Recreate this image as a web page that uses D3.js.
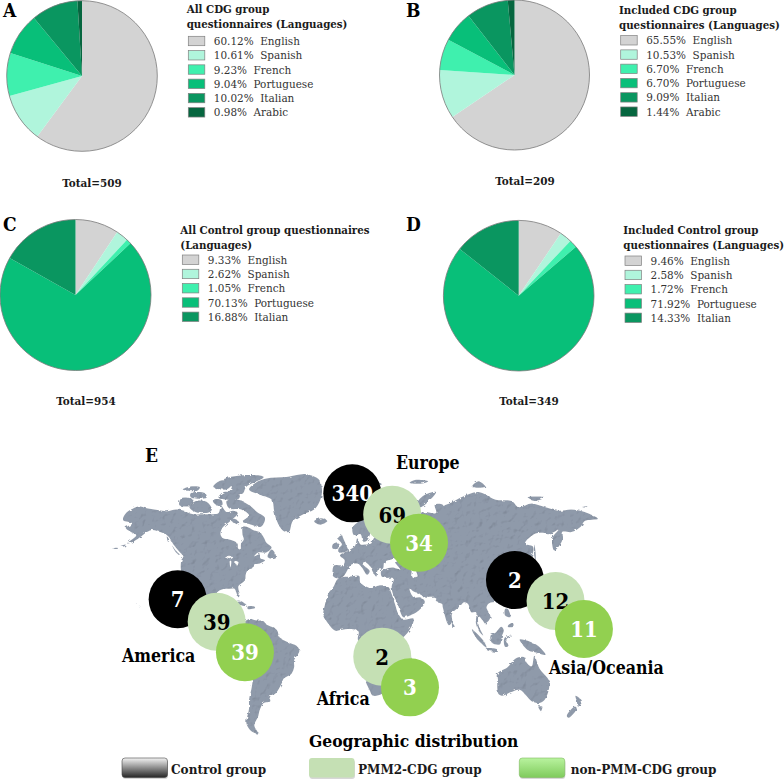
<!DOCTYPE html>
<html>
<head>
<meta charset="utf-8">
<script src="https://cdn.jsdelivr.net/npm/d3@7"></script>
<style>
  html, body { margin: 0; padding: 0; background: #fff; }
  svg { display: block; }
  text { font-family: "DejaVu Serif Condensed", "DejaVu Serif", serif; }
</style>
</head>
<body>
<div id="chart"></div>
<script>
// Languages, in legend order
const languages = ["English", "Spanish", "French", "Portuguese", "Italian", "Arabic"];
const languageColors = ["#d3d3d3", "#b0f5dc", "#3ff0ae", "#08bf79", "#0a9660", "#06663f"];

// Percent of questionnaires per language
const allCdg = [60.12, 10.61, 9.23, 9.04, 10.02, 0.98];
const includedCdg = [65.55, 10.53, 6.70, 6.70, 9.09, 1.44];
const allControl = [9.33, 2.62, 1.05, 70.13, 16.88];
const includedControl = [9.46, 2.58, 1.72, 71.92, 14.33];

// Bubbles on the map, drawn back to front
const bubbleGroups = [0, 1, 2, 0, 1, 2, 1, 2, 0, 1, 2];
const bubbleValues = [340, 69, 34, 7, 39, 39, 2, 3, 2, 12, 11];
const bubbleLon = [4.8, 34.9, 55.1, -126.8, -97.4, -76.1, 27.4, 48.3, 127.4, 158, 179.4];
const bubbleLat = [76.5, 67.8, 54.9, 23.8, 10.1, -8.9, -11.6, -30.1, 35.1, 22.8, 5.6];

const groupNames = ["Control group", "PMM2-CDG group", "non-PMM-CDG group"];
const groupColors = ["#000000", "#c5e0b4", "#92d050"];
const groupTextColors = ["#ffffff", "#000000", "#ffffff"];

// Rough coastlines as [lon, lat]
const land = [
  // North America
  [[-168,65.5],[-166,68.3],[-162,70],[-156.5,71.3],[-150,70.5],[-141,69.7],[-135,69.3],[-128,70],[-124,69.8],[-115,68],[-108,68],[-100,68],[-96,68.5],[-94,71.5],[-90,69],[-85,69.5],[-81.5,68.5],[-87,65],[-93,62],[-94.5,59],[-92.5,57],[-88,56.5],[-82.5,55],[-82,52.5],[-79.5,51.5],[-79,54.5],[-77,56.5],[-78,59],[-77.5,62.5],[-73,62],[-70,61],[-65,60],[-62,57.5],[-60,55],[-56,52.5],[-60,50],[-66,50],[-69,48],[-65,49],[-64.5,47],[-61,46],[-66,44],[-70,43.5],[-70.5,41.7],[-74,40.5],[-75.5,38],[-76,35],[-81,31.5],[-80,26.5],[-81,25],[-82.7,28],[-84,30],[-89,30],[-94,29.5],[-97.3,27.5],[-97.8,22.5],[-95,18.5],[-91,18.5],[-90.5,21],[-87,21.5],[-88,16],[-83.5,15],[-83.5,11],[-80,9],[-77.5,8.5],[-79.5,7.5],[-83,8.3],[-86,11],[-91,14],[-95,16],[-100,17],[-105.5,20],[-106,23],[-109,26],[-112.5,30],[-114.5,31.5],[-112,27],[-109.7,23],[-112,25],[-115,29],[-117,32.5],[-120.5,34.5],[-122.5,37.5],[-124.3,40.5],[-124,46],[-122.5,48],[-125,50],[-130,54],[-134,58],[-140,60],[-146,61],[-150,60],[-154,58],[-160,55.5],[-165,54.5],[-158,58.5],[-162,60],[-166,62],[-161,64]],
  // Greenland
  [[-73,78],[-68,80.5],[-60,82],[-45,82.5],[-30,83.5],[-20,81.5],[-18,77],[-20,73],[-24,70],[-32,68],[-40,65],[-43,60],[-48,61],[-52,65],[-54,69],[-56,74],[-65,76]],
  // Arctic Canada
  [[-81,73.8],[-72,71.5],[-67,69],[-61,66.5],[-64,62.5],[-72,63.5],[-78,64.8],[-73,67.5],[-79,70],[-88,70.5],[-90,73.5]],
  [[-118,71],[-113,68.8],[-103,68.8],[-101,70],[-105,73.2],[-114,73.3]],
  [[-88,76.8],[-78,76.3],[-75,79],[-62,82.5],[-75,83.2],[-92,81.5],[-86,79]],
  [[-125.5,71.8],[-118,71.5],[-115,74],[-124,74.6]],
  [[-96,74.8],[-81,74.3],[-80,75.8],[-92,77]],
  [[-117,75],[-105,74.8],[-106,76.5],[-117,76.5]],
  [[-100,73],[-96,71.5],[-93,72],[-94,74],[-100,74]],
  [[-87,65.5],[-81,63.5],[-80.5,64.5],[-84,66]],
  [[-79,56],[-79,55.5],[-78,56.5]],
  [[-100,79],[-90,78],[-86,80],[-94,81.3]],
  [[-123,78],[-112,77.5],[-110,78.8],[-118,79]],
  [[-84,73],[-79,72.5],[-78,73.5],[-84,73.9]],
  // Aleutians and Pacific dots
  [[-176,52],[-172,52.3],[-172,51.8]],
  [[-170,53.2],[-166,54],[-167,53]],
  [[-156,20],[-155,19.5],[-155.5,19]],
  [[-158.3,21.6],[-157.7,21.4],[-158,21.2]],
  [[-135,58],[-133,56],[-134,55.3]],
  [[-131,53.5],[-128,50],[-125,48.7],[-128,50.8]],
  // Newfoundland, Caribbean
  [[-59,47.7],[-53,46.8],[-53,49],[-56,51.5]],
  [[-85,22],[-80,23],[-74.5,20],[-78,20]],
  [[-74,19.5],[-69,19.5],[-68.5,18.5],[-74,18]],
  // South America
  [[-77.5,8.5],[-75,11],[-72,12],[-68,11],[-62,10.5],[-60,8.5],[-52,5],[-50,0.5],[-44,-2.5],[-37,-5],[-35,-8],[-39,-14],[-39,-18],[-41,-22],[-47,-25],[-48.5,-28],[-53.5,-34],[-58,-35],[-57,-38],[-62,-39],[-65,-43],[-66,-46],[-69,-51],[-66,-55],[-71,-54],[-75,-50],[-73,-42],[-73,-37],[-71,-30],[-70,-18],[-76,-14],[-81,-6],[-80,-2],[-79,2],[-77.5,5]],
  // Africa
  [[-6,35.8],[3,37],[10,37.3],[11,33.5],[19,30.5],[25,32],[32,31],[34,28],[37,21],[39.5,15],[43,11.5],[51,12],[48,5],[41,-2],[39,-7],[40.5,-15],[35,-20],[35,-24],[32.5,-28],[27,-34],[20,-34.8],[18,-32],[15,-27],[12,-18],[13.5,-10],[9,-1],[9.5,4],[5,5.5],[-4,5],[-8,4.5],[-13,8.5],[-17,14.7],[-16,20],[-13,27.5],[-9.5,31]],
  [[49,-12],[50,-16],[47,-25],[44,-25],[44,-17]],
  // Eurasia
  [[-9.5,37],[-9,43],[-2,43.5],[-1,46],[-4.5,48.5],[2,51],[7,53.5],[8.5,57],[11,54],[14,54],[19,54.5],[21,57],[24,59],[30,60],[23,60],[21,63],[25,65.5],[22,65.5],[17.5,62],[18.5,60],[16,56],[13,55.5],[11,59],[6,58.5],[5,62],[12,66],[18,70],[26,71],[33,69.5],[41,67],[38,64.5],[44,66],[44,68],[54,68.5],[60,69],[68,68.5],[67,72],[73,72],[75,68],[73,71],[80,73],[87,75],[100,77],[113,74],[125,73.5],[130,71],[140,72.5],[150,71],[160,69.5],[170,70],[180,69],[190,66],[180,65],[177,62.5],[170,60],[163,60],[163,56],[157,51],[155.5,57],[160,61],[155,59.5],[143,59.3],[135,54.5],[141,53],[140,48],[133,43],[130,42.5],[127.5,39.8],[129.5,36],[126.5,34.5],[126,37.5],[125,39.5],[121,39],[118,39],[122,37],[119.5,35],[122,31],[120,26],[114,22.5],[108,21.5],[106,19],[109,13],[105,9],[103,11],[100,13.5],[100,8],[103.5,1.5],[100.5,4],[98,9],[98,16],[94.5,16],[92,21],[89,22],[86.5,20],[80,15],[80,10],[77.5,8],[73,19],[72.5,21],[69,22],[67,25],[61,25.3],[57,26],[56,27],[51,28.5],[48,30],[51,25],[56,25],[59.5,22.5],[55,17],[45,13],[43,13],[39,21],[35,28],[34.5,31.5],[36,36],[30,36.3],[27,37],[26.5,40],[29,41],[35,42],[41,41],[37,45],[39,47],[33,46],[29,45],[28,41.5],[24,40.5],[23,37],[20,40],[19,42],[14,45],[12.5,44],[18,40],[16,38],[12,42],[9,44],[4,43.5],[0,39],[-2,37],[-5.5,36]],
  // Atlantic and Arctic islands
  [[-5.5,50],[1.5,51],[0,54],[-2,57],[-3,58.5],[-6,57],[-3,54],[-5.5,52]],
  [[-10,52],[-6,52],[-6,55],[-10,54]],
  [[-24,65],[-18,66.3],[-14,65],[-19,63.4],[-22.5,64]],
  [[12,79],[20,80.5],[27,80],[18,77],[14,77]],
  [[52,71],[57,71],[68,77],[58,75.5]],
  [[48,80.5],[58,80.2],[62,81],[52,81.5]],
  [[95,79],[105,79],[100,81]],
  [[137,75],[150,75],[142,73.5]],
  [[178,71],[182,71.3],[180,70.8]],
  // East Asia
  [[142,54],[143,50],[143,46],[142,48]],
  [[130,33],[136,34],[141,35.5],[142,40],[140.5,41],[137,37],[132,35.5]],
  [[140,42],[145,43.5],[142,45.5]],
  [[120,23],[122,25],[121,22]],
  [[120,18],[122,18],[124,13],[120,14]],
  [[122,7],[126,7],[126,9.5],[123,8.5]],
  [[80,9.5],[82,7],[80.5,6]],
  // Indonesia and Oceania
  [[95,5.5],[104,-2],[106,-6],[101.5,-3],[96,3]],
  [[105.5,-6.5],[114,-7],[114.5,-8.5],[106,-7.5]],
  [[109,1.5],[113,3.5],[117,7],[119,5],[117.5,1],[116,-4],[110,-3]],
  [[119.5,0],[125,1.5],[121,-1],[122.5,-5],[120,-5.5]],
  [[131,-1],[138,-2],[145,-5],[150.5,-10.5],[143,-9],[138,-8],[133,-4]],
  [[114,-22],[122,-18],[126,-14],[130,-12],[135,-12],[136,-15],[140,-17.5],[142,-11],[146,-19],[153,-26],[153,-31],[150,-37],[146,-39],[140,-38],[136,-35],[131,-31.5],[124,-33],[118,-35],[115,-34],[114,-26]],
  [[145,-41],[148,-41],[147,-43.5]],
  [[173,-35],[178,-38],[175,-41],[174,-38]],
  [[172.5,-41],[174,-42],[168,-47],[166.5,-46]]
];

// Inland water cut out of the map
const water = [
  [[47,45],[53,46],[53,40],[54,37],[49.5,37],[49.5,40.5]],
  [[-91,47.5],[-85,47.5],[-87,46.5]],
  [[-87.5,45.5],[-86.5,45.5],[-87,42]],
  [[-84,45.5],[-81,45],[-82,43]]
];

const svg = d3.select("#chart").append("svg")
    .attr("width", 784)
    .attr("height", 783);

const defs = svg.append("defs");

// Stone-like texture for the map
const stone = defs.append("filter").attr("id", "stone")
    .attr("x", "-2%").attr("y", "-2%").attr("width", "104%").attr("height", "104%");
stone.append("feTurbulence").attr("type", "fractalNoise").attr("baseFrequency", 0.25)
    .attr("numOctaves", 3).attr("seed", 5).attr("result", "edge");
stone.append("feDisplacementMap").attr("in", "SourceGraphic").attr("in2", "edge")
    .attr("scale", 3).attr("result", "shape");
stone.append("feTurbulence").attr("type", "fractalNoise").attr("baseFrequency", 0.16)
    .attr("numOctaves", 4).attr("seed", 11).attr("result", "noise");
stone.append("feDiffuseLighting").attr("in", "noise").attr("surfaceScale", 0.9)
    .attr("diffuseConstant", 1.18)
    .attr("lighting-color", "#ffffff").attr("result", "light")
    .append("feDistantLight").attr("azimuth", 45).attr("elevation", 60);
stone.append("feComposite").attr("in", "light").attr("in2", "shape")
    .attr("operator", "in").attr("result", "texture");
stone.append("feBlend").attr("in", "texture").attr("in2", "shape").attr("mode", "multiply");

const controlFill = defs.append("linearGradient").attr("id", "controlFill")
    .attr("x1", 0).attr("y1", 0).attr("x2", 0).attr("y2", 1);
controlFill.append("stop").attr("offset", "0%").attr("stop-color", "#f4f4f4");
controlFill.append("stop").attr("offset", "100%").attr("stop-color", "#262626");

const greenFill = defs.append("linearGradient").attr("id", "greenFill")
    .attr("x1", 0).attr("y1", 0).attr("x2", 0).attr("y2", 1);
greenFill.append("stop").attr("offset", "0%").attr("stop-color", "#b9f39f");
greenFill.append("stop").attr("offset", "100%").attr("stop-color", "#7fcb5c");

// Pie panels
const pie = d3.pie().sort(null);

function drawPie(panel) {
    const g = svg.append("g");
    const radius = panel.radius;
    const arc = d3.arc().innerRadius(0).outerRadius(radius);

    const slices = g.append("g")
        .attr("transform", `translate(${panel.cx},${panel.cy})`);
    slices.selectAll("path")
        .data(pie(panel.values))
        .join("path")
        .attr("d", arc)
        .attr("fill", (d, i) => languageColors[i]);
    slices.append("circle")
        .attr("r", radius)
        .attr("fill", "none")
        .attr("stroke", "#7a7a7a")
        .attr("stroke-width", 0.8);

    g.append("text")
        .attr("x", panel.letterX).attr("y", panel.letterY)
        .attr("font-size", 19).attr("font-weight", "bold")
        .text(panel.letter);

    g.selectAll(".title")
        .data(panel.title)
        .join("text")
        .attr("class", "title")
        .attr("x", panel.titleX)
        .attr("y", (d, i) => panel.titleY + i * 15)
        .attr("font-size", 11.4).attr("font-weight", "bold")
        .attr("fill", "#1a1a1a")
        .text(d => d);

    const rows = g.selectAll(".row")
        .data(panel.values)
        .join("g")
        .attr("class", "row")
        .attr("transform", (d, i) => `translate(${panel.legendX},${panel.legendY + i * 14.27})`);
    rows.append("rect")
        .attr("y", -4.7).attr("width", 16.5).attr("height", 9.4)
        .attr("fill", (d, i) => languageColors[i])
        .attr("stroke", "#808080").attr("stroke-width", 0.7);
    rows.append("text")
        .attr("x", 25.5).attr("y", 4)
        .attr("font-size", 11.6).attr("fill", "#333333")
        .style("white-space", "pre")
        .text((d, i) => `${d.toFixed(2)}%  ${languages[i]}`);

    g.append("text")
        .attr("x", panel.totalX).attr("y", panel.totalY)
        .attr("text-anchor", "middle")
        .attr("font-size", 11.6).attr("font-weight", "bold")
        .attr("fill", "#1a1a1a")
        .text(`Total=${panel.total}`);
}

drawPie({ letter: "A", letterX: 3, letterY: 17, cx: 82, cy: 76, radius: 75.3, values: allCdg,
    title: ["All CDG group", "questionnaires (Languages)"], titleX: 186.7, titleY: 13,
    legendX: 188.3, legendY: 41, total: 509, totalX: 92, totalY: 186.7 });
drawPie({ letter: "B", letterX: 406, letterY: 17, cx: 514.5, cy: 75, radius: 75, values: includedCdg,
    title: ["Included CDG group", "questionnaires (Languages)"], titleX: 619, titleY: 14,
    legendX: 620.7, legendY: 40.3, total: 209, totalX: 525, totalY: 185 });
drawPie({ letter: "C", letterX: 3, letterY: 231, cx: 75.5, cy: 295, radius: 75.5, values: allControl,
    title: ["All Control group questionnaires", "(Languages)"], titleX: 180.3, titleY: 234,
    legendX: 182.3, legendY: 259.7, total: 954, totalX: 86, totalY: 405 });
drawPie({ letter: "D", letterX: 406, letterY: 231, cx: 518.7, cy: 295.7, radius: 75.3, values: includedControl,
    title: ["Included Control group", "questionnaires (Languages)"], titleX: 623.3, titleY: 234.3,
    legendX: 625, legendY: 260.7, total: 349, totalX: 529, totalY: 405.3 });

// World map: Gall stereographic latitudes
const gall = lat => Math.tan(lat * Math.PI / 360);
const lonScale = d3.scaleLinear().domain([-168, 190]).range([123, 598]);
const latScale = d3.scaleLinear().domain([0, 1]).range([638, 454.5]);
const project = ([lon, lat]) => [lonScale(lon), latScale(gall(lat))];
const coast = d3.line().curve(d3.curveCatmullRomClosed.alpha(0.5));

const map = svg.append("g").attr("filter", "url(#stone)");
map.selectAll(".land")
    .data(land)
    .join("path")
    .attr("class", "land")
    .attr("d", d => coast(d.map(project)))
    .attr("fill", "#8f9aaa");
map.selectAll(".water")
    .data(water)
    .join("path")
    .attr("class", "water")
    .attr("d", d => coast(d.map(project)))
    .attr("fill", "#ffffff");

svg.append("text")
    .attr("x", 145).attr("y", 462)
    .attr("font-size", 19).attr("font-weight", "bold")
    .text("E");

// Region labels
const regionNames = ["Europe", "America", "Africa", "Asia/Oceania"];
const regionX = [396, 122, 316.7, 549];
const regionY = [469, 662, 705, 674];
svg.selectAll(".region")
    .data(regionNames)
    .join("text")
    .attr("class", "region")
    .attr("x", (d, i) => regionX[i])
    .attr("y", (d, i) => regionY[i])
    .attr("font-size", 17.6).attr("font-weight", "bold")
    .text(d => d);

// Bubbles
const bubbles = svg.selectAll(".bubble")
    .data(bubbleValues)
    .join("g")
    .attr("class", "bubble")
    .attr("transform", (d, i) => {
        const [px, py] = project([bubbleLon[i], bubbleLat[i]]);
        return `translate(${px},${py})`;
    });
bubbles.append("circle")
    .attr("r", 29)
    .attr("fill", (d, i) => groupColors[bubbleGroups[i]]);
bubbles.append("text")
    .attr("text-anchor", "middle")
    .attr("dy", "0.36em")
    .attr("font-size", 22).attr("font-weight", "bold")
    .attr("fill", (d, i) => groupTextColors[bubbleGroups[i]])
    .text(d => d);

// Bottom legend
svg.append("text")
    .attr("x", 309).attr("y", 746.7)
    .attr("font-size", 17.3).attr("font-weight", "bold")
    .text("Geographic distribution");

const legendFills = ["url(#controlFill)", "#c5e0b4", "url(#greenFill)"];
const legendStrokes = ["#444444", "none", "#7fb860"];
const legendSwatchX = [122, 309, 519.3];
const legendTextX = [171, 358, 570.7];
const legendItems = svg.selectAll(".group-legend")
    .data(groupNames)
    .join("g")
    .attr("class", "group-legend");
legendItems.append("rect")
    .attr("x", (d, i) => legendSwatchX[i] + 0.5).attr("y", 760)
    .attr("width", 45.5).attr("height", 19).attr("rx", 3)
    .attr("fill", "#bdbdbd").attr("opacity", 0.6);
legendItems.append("rect")
    .attr("x", (d, i) => legendSwatchX[i]).attr("y", 758)
    .attr("width", 45.5).attr("height", 19.5).attr("rx", 3)
    .attr("fill", (d, i) => legendFills[i])
    .attr("stroke", (d, i) => legendStrokes[i])
    .attr("stroke-width", 0.6);
legendItems.append("text")
    .attr("x", (d, i) => legendTextX[i]).attr("y", 774)
    .attr("font-size", 13.4).attr("font-weight", "bold")
    .attr("fill", "#1a1a1a")
    .text(d => d);
</script>
</body>
</html>
